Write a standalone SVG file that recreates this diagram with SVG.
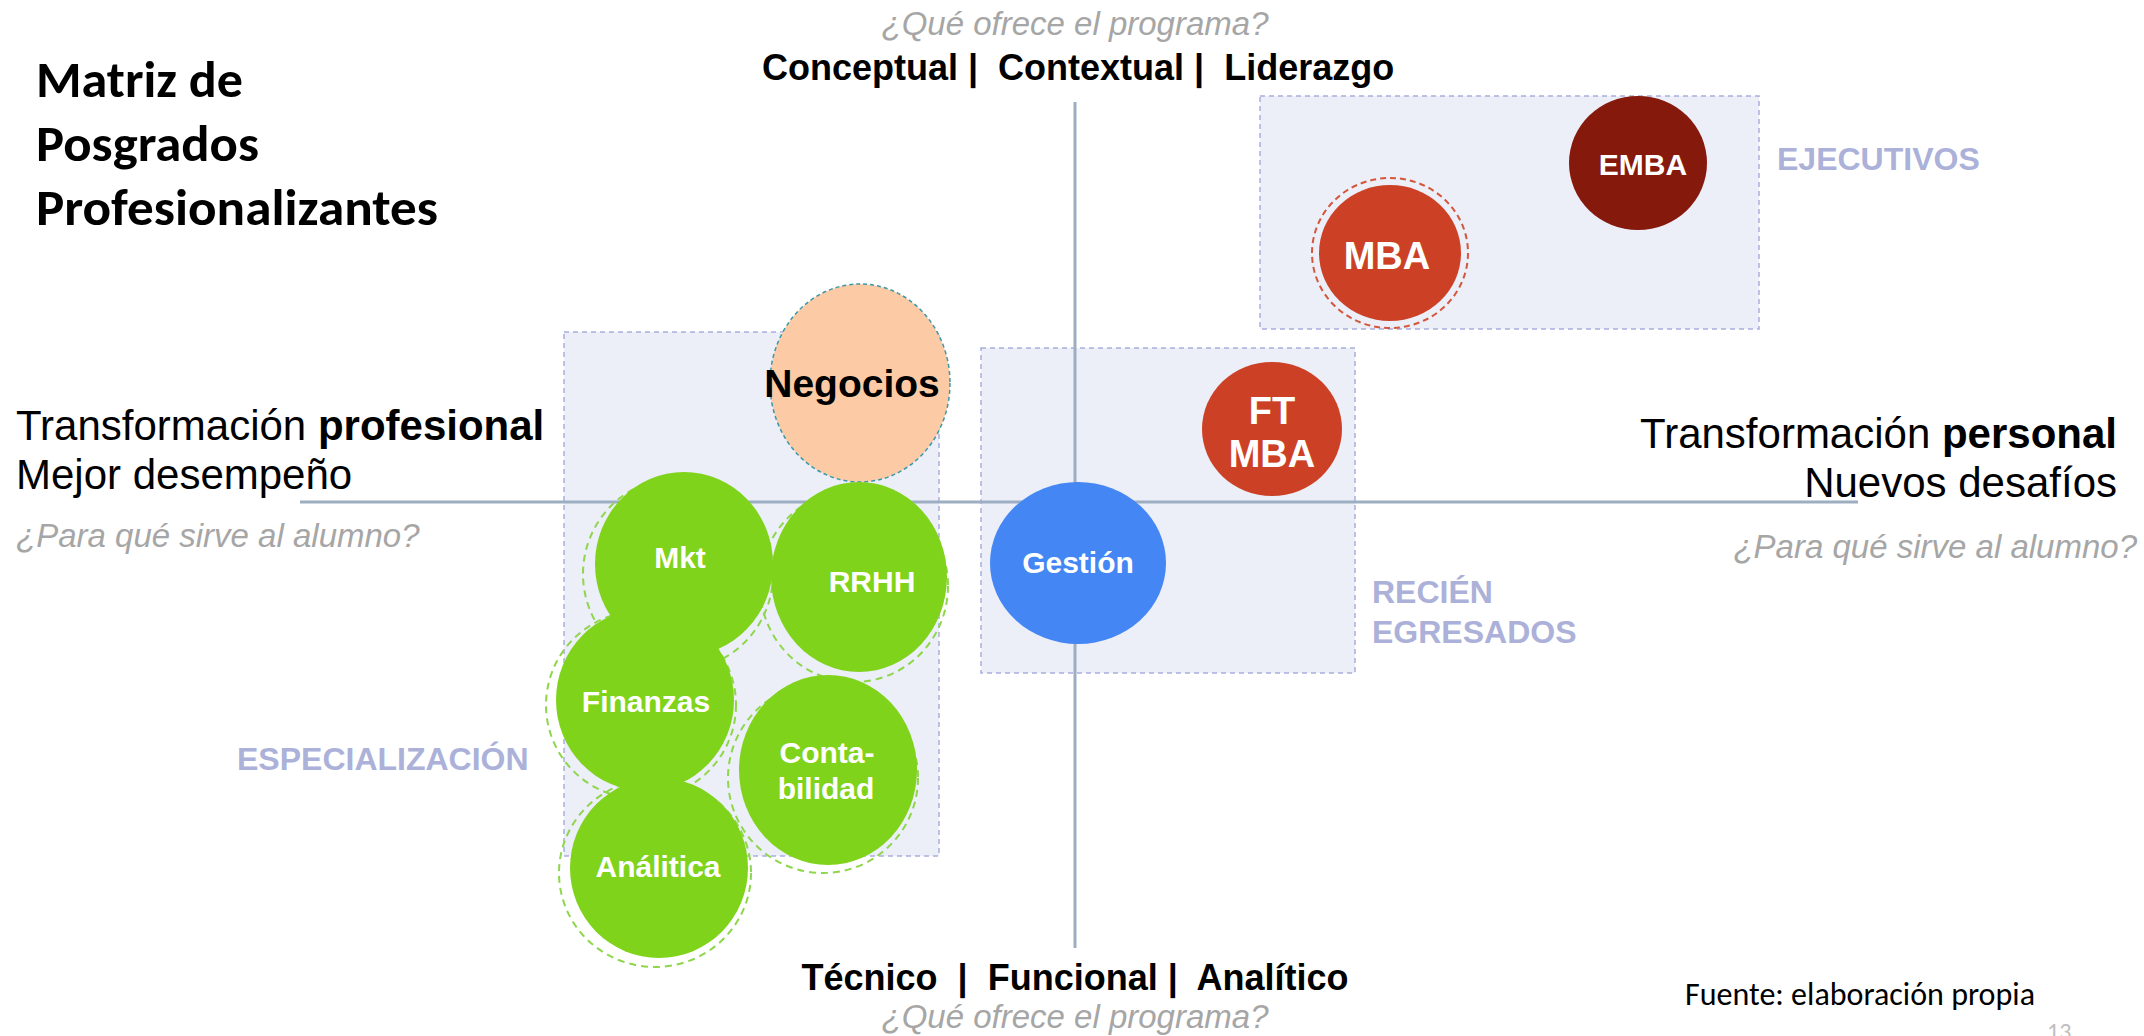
<svg xmlns="http://www.w3.org/2000/svg" width="2144" height="1036" viewBox="0 0 2144 1036">
<style>
  .sans { font-family: "Liberation Sans", Arial, sans-serif; }
  .title { font-family: Carlito, Lato, "Open Sans", sans-serif; font-weight: 700; font-size: 50px; fill: #000; }
  .q { font-family: "Liberation Sans", Arial, sans-serif; font-style: italic; font-size: 33px; fill: #A6A6A6; }
  .axis-lbl { font-family: "Liberation Sans", Arial, sans-serif; font-weight: 700; font-size: 36px; fill: #000; }
  .side { font-family: "Liberation Sans", Arial, sans-serif; font-size: 42px; fill: #000; }
  .cat { font-family: "Liberation Sans", Arial, sans-serif; font-weight: 700; font-size: 32px; fill: #ABB1D9; }
  .lbl { font-family: "Liberation Sans", Arial, sans-serif; font-weight: 700; font-size: 30px; fill: #fff; text-anchor: middle; }
  .big { font-size: 38px; }
  .box { fill: #ECEEF8; stroke: #A9AEDB; stroke-width: 1.5; stroke-dasharray: 5 4; }
  .axis { stroke: #9DAEC2; stroke-width: 3; fill: none; }
  .green { fill: #7FD31B; }
  .ring { fill: none; stroke: #8ED64A; stroke-width: 2; stroke-dasharray: 7 5; }
  .red { fill: #CC4125; }
</style>

<!-- Title -->
<g id="title">
  <text class="title" x="36" y="97" textLength="207" lengthAdjust="spacingAndGlyphs">Matriz de</text>
  <text class="title" x="36" y="161" textLength="223" lengthAdjust="spacingAndGlyphs">Posgrados</text>
  <text class="title" x="36" y="225" textLength="402" lengthAdjust="spacingAndGlyphs">Profesionalizantes</text>
</g>

<!-- Group boxes -->
<g id="box-especializacion"><rect class="box" x="564" y="332" width="375" height="524"/></g>
<g id="box-recien"><rect class="box" x="981" y="348" width="374" height="325"/></g>
<g id="box-ejecutivos"><rect class="box" x="1260" y="96" width="499" height="233"/></g>

<!-- Axes -->
<g id="connectors">
  <line class="axis" x1="1075" y1="102" x2="1075" y2="948"/>
  <line class="axis" x1="300" y1="502" x2="1858" y2="502"/>
</g>

<!-- Axis labels -->
<g id="axis-labels">
  <text class="q" x="1075" y="35" text-anchor="middle">¿Qué ofrece el programa?</text>
  <text class="axis-lbl" x="762" y="80" xml:space="preserve">Conceptual |  Contextual |  Liderazgo</text>
  <text class="axis-lbl" x="1075" y="990" text-anchor="middle" xml:space="preserve">Técnico  |  Funcional |  Analítico</text>
  <text class="q" x="1075" y="1028" text-anchor="middle">¿Qué ofrece el programa?</text>

  <text class="side" x="16" y="440">Transformación <tspan font-weight="700">profesional</tspan></text>
  <text class="side" x="16" y="489">Mejor desempeño</text>
  <text class="q" x="16" y="547">¿Para qué sirve al alumno?</text>

  <text class="side" x="2117" y="448" text-anchor="end">Transformación <tspan font-weight="700">personal</tspan></text>
  <text class="side" x="2117" y="497" text-anchor="end">Nuevos desafíos</text>
  <text class="q" x="2137" y="558" text-anchor="end">¿Para qué sirve al alumno?</text>
</g>

<!-- Category labels -->
<g id="cat-ejecutivos"><text class="cat" x="1777" y="170">EJECUTIVOS</text></g>
<g id="cat-recien">
  <text class="cat" x="1372" y="603">RECIÉN</text>
  <text class="cat" x="1372" y="643">EGRESADOS</text>
</g>
<g id="cat-especializacion"><text class="cat" x="237" y="770">ESPECIALIZACIÓN</text></g>

<!-- Green node rings (drawn beneath fills) -->
<g id="green-rings">
  <ellipse class="ring" cx="678" cy="574" rx="95" ry="96"/>
  <ellipse class="ring" cx="854" cy="586" rx="94" ry="96"/>
  <ellipse class="ring" cx="641" cy="705" rx="95" ry="94"/>
  <ellipse class="ring" cx="655" cy="873" rx="96" ry="94"/>
  <ellipse class="ring" cx="823" cy="778" rx="95" ry="95"/>
</g>

<!-- Nodes -->
<g id="node-negocios">
  <ellipse cx="860" cy="383" rx="90" ry="99" fill="#FCCBA5" stroke="#3B98A9" stroke-width="1.5" stroke-dasharray="4 3"/>
  <text class="sans" x="852" y="397" text-anchor="middle" font-weight="700" font-size="39" fill="#000">Negocios</text>
</g>
<g id="node-finanzas">
  <ellipse class="green" cx="645" cy="700" rx="89" ry="91"/>
  <text class="lbl" x="646" y="712">Finanzas</text>
</g>
<g id="node-analitica">
  <ellipse class="green" cx="659" cy="868" rx="89" ry="90"/>
  <text class="lbl" x="658" y="877">Análitica</text>
</g>
<g id="node-contabilidad">
  <ellipse class="green" cx="828" cy="770" rx="89" ry="95"/>
  <text class="lbl" x="827" y="763">Conta-</text>
  <text class="lbl" x="826" y="799">bilidad</text>
</g>
<g id="node-mkt">
  <ellipse class="green" cx="684" cy="564" rx="89" ry="92"/>
  <text class="lbl" x="680" y="568">Mkt</text>
</g>
<g id="node-rrhh">
  <ellipse class="green" cx="859" cy="577" rx="88" ry="95"/>
  <text class="lbl" x="872" y="592">RRHH</text>
</g>
<g id="node-gestion">
  <ellipse cx="1078" cy="563" rx="88" ry="81" fill="#4386F4"/>
  <text class="lbl" x="1078" y="573">Gestión</text>
</g>
<g id="node-ftmba">
  <ellipse class="red" cx="1272" cy="429" rx="70" ry="67"/>
  <text class="lbl big" x="1272" y="424">FT</text>
  <text class="lbl big" x="1272" y="467">MBA</text>
</g>
<g id="node-mba">
  <ellipse cx="1390" cy="253" rx="78" ry="75" fill="none" stroke="#D4563B" stroke-width="2" stroke-dasharray="6 4"/>
  <ellipse class="red" cx="1390" cy="253" rx="71" ry="68"/>
  <text class="lbl big" x="1387" y="269">MBA</text>
</g>
<g id="node-emba">
  <ellipse cx="1638" cy="163" rx="69" ry="67" fill="#85190B"/>
  <text class="lbl" x="1643" y="175" font-size="35">EMBA</text>
</g>

<!-- Footer -->
<g id="footer">
  <text x="1685" y="1005" font-family="Carlito, Lato, 'Open Sans', sans-serif" font-size="32" fill="#000" textLength="350" lengthAdjust="spacingAndGlyphs">Fuente: elaboración propia</text>
  <text x="2047" y="1040" font-family="Carlito, Lato, 'Open Sans', sans-serif" font-size="24" fill="#BFBFBF">13</text>
</g>
</svg>
